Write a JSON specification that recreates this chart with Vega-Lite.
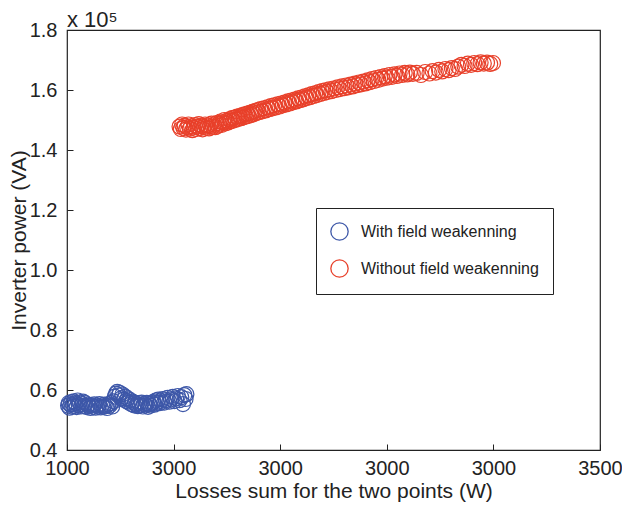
{
  "$schema": "https://vega.github.io/schema/vega-lite/v6.json",
  "width": 533,
  "height": 420,
  "autosize": {"type": "none"},
  "padding": {"left": 67, "top": 30, "right": 22, "bottom": 57},
  "background": "white",
  "title": {"text": "x 10⁵", "anchor": "start", "frame": "group", "font": "Liberation Sans", "fontSize": 22, "fontWeight": "normal", "color": "#222", "offset": -12},
  "config": {
    "view": {"stroke": "#222", "strokeWidth": 1.2},
    "font": "Liberation Sans"
  },
  "datasets": {
    "pts": [
      {"loss":1005,"power":0.548,"case":"With field weakenning"},{"loss":1008,"power":0.556,"case":"With field weakenning"},{"loss":1012,"power":0.541,"case":"With field weakenning"},{"loss":1016,"power":0.552,"case":"With field weakenning"},{"loss":1020,"power":0.560,"case":"With field weakenning"},{"loss":1024,"power":0.545,"case":"With field weakenning"},{"loss":1028,"power":0.553,"case":"With field weakenning"},{"loss":1032,"power":0.562,"case":"With field weakenning"},{"loss":1036,"power":0.547,"case":"With field weakenning"},{"loss":1040,"power":0.556,"case":"With field weakenning"},{"loss":1045,"power":0.543,"case":"With field weakenning"},{"loss":1050,"power":0.565,"case":"With field weakenning"},{"loss":1055,"power":0.550,"case":"With field weakenning"},{"loss":1060,"power":0.558,"case":"With field weakenning"},{"loss":1065,"power":0.545,"case":"With field weakenning"},{"loss":1070,"power":0.553,"case":"With field weakenning"},{"loss":1075,"power":0.561,"case":"With field weakenning"},{"loss":1080,"power":0.547,"case":"With field weakenning"},{"loss":1086,"power":0.556,"case":"With field weakenning"},{"loss":1092,"power":0.543,"case":"With field weakenning"},{"loss":1098,"power":0.551,"case":"With field weakenning"},{"loss":1104,"power":0.546,"case":"With field weakenning"},{"loss":1110,"power":0.540,"case":"With field weakenning"},{"loss":1116,"power":0.549,"case":"With field weakenning"},{"loss":1122,"power":0.544,"case":"With field weakenning"},{"loss":1128,"power":0.552,"case":"With field weakenning"},{"loss":1134,"power":0.541,"case":"With field weakenning"},{"loss":1140,"power":0.548,"case":"With field weakenning"},{"loss":1146,"power":0.545,"case":"With field weakenning"},{"loss":1152,"power":0.553,"case":"With field weakenning"},{"loss":1158,"power":0.542,"case":"With field weakenning"},{"loss":1164,"power":0.549,"case":"With field weakenning"},{"loss":1170,"power":0.544,"case":"With field weakenning"},{"loss":1176,"power":0.551,"case":"With field weakenning"},{"loss":1182,"power":0.546,"case":"With field weakenning"},{"loss":1188,"power":0.540,"case":"With field weakenning"},{"loss":1194,"power":0.552,"case":"With field weakenning"},{"loss":1200,"power":0.548,"case":"With field weakenning"},{"loss":1206,"power":0.556,"case":"With field weakenning"},{"loss":1212,"power":0.545,"case":"With field weakenning"},{"loss":1218,"power":0.562,"case":"With field weakenning"},{"loss":1224,"power":0.578,"case":"With field weakenning"},{"loss":1230,"power":0.588,"case":"With field weakenning"},{"loss":1236,"power":0.594,"case":"With field weakenning"},{"loss":1242,"power":0.582,"case":"With field weakenning"},{"loss":1248,"power":0.590,"case":"With field weakenning"},{"loss":1254,"power":0.572,"case":"With field weakenning"},{"loss":1260,"power":0.585,"case":"With field weakenning"},{"loss":1266,"power":0.568,"case":"With field weakenning"},{"loss":1272,"power":0.578,"case":"With field weakenning"},{"loss":1278,"power":0.563,"case":"With field weakenning"},{"loss":1284,"power":0.572,"case":"With field weakenning"},{"loss":1290,"power":0.558,"case":"With field weakenning"},{"loss":1296,"power":0.566,"case":"With field weakenning"},{"loss":1302,"power":0.553,"case":"With field weakenning"},{"loss":1308,"power":0.561,"case":"With field weakenning"},{"loss":1314,"power":0.549,"case":"With field weakenning"},{"loss":1320,"power":0.557,"case":"With field weakenning"},{"loss":1326,"power":0.552,"case":"With field weakenning"},{"loss":1332,"power":0.546,"case":"With field weakenning"},{"loss":1338,"power":0.556,"case":"With field weakenning"},{"loss":1344,"power":0.549,"case":"With field weakenning"},{"loss":1350,"power":0.558,"case":"With field weakenning"},{"loss":1356,"power":0.545,"case":"With field weakenning"},{"loss":1362,"power":0.553,"case":"With field weakenning"},{"loss":1368,"power":0.549,"case":"With field weakenning"},{"loss":1374,"power":0.557,"case":"With field weakenning"},{"loss":1380,"power":0.544,"case":"With field weakenning"},{"loss":1386,"power":0.552,"case":"With field weakenning"},{"loss":1392,"power":0.548,"case":"With field weakenning"},{"loss":1398,"power":0.556,"case":"With field weakenning"},{"loss":1404,"power":0.560,"case":"With field weakenning"},{"loss":1410,"power":0.551,"case":"With field weakenning"},{"loss":1416,"power":0.565,"case":"With field weakenning"},{"loss":1422,"power":0.558,"case":"With field weakenning"},{"loss":1428,"power":0.568,"case":"With field weakenning"},{"loss":1434,"power":0.556,"case":"With field weakenning"},{"loss":1440,"power":0.563,"case":"With field weakenning"},{"loss":1448,"power":0.570,"case":"With field weakenning"},{"loss":1456,"power":0.558,"case":"With field weakenning"},{"loss":1464,"power":0.566,"case":"With field weakenning"},{"loss":1472,"power":0.574,"case":"With field weakenning"},{"loss":1480,"power":0.561,"case":"With field weakenning"},{"loss":1488,"power":0.569,"case":"With field weakenning"},{"loss":1496,"power":0.577,"case":"With field weakenning"},{"loss":1504,"power":0.563,"case":"With field weakenning"},{"loss":1512,"power":0.572,"case":"With field weakenning"},{"loss":1520,"power":0.580,"case":"With field weakenning"},{"loss":1528,"power":0.566,"case":"With field weakenning"},{"loss":1536,"power":0.576,"case":"With field weakenning"},{"loss":1544,"power":0.553,"case":"With field weakenning"},{"loss":1550,"power":0.583,"case":"With field weakenning"},{"loss":1556,"power":0.570,"case":"With field weakenning"},{"loss":1560,"power":0.586,"case":"With field weakenning"},
      {"loss":1528,"power":1.478,"case":"Without field weakenning"},{"loss":1534,"power":1.470,"case":"Without field weakenning"},{"loss":1540,"power":1.485,"case":"Without field weakenning"},{"loss":1546,"power":1.474,"case":"Without field weakenning"},{"loss":1552,"power":1.481,"case":"Without field weakenning"},{"loss":1558,"power":1.468,"case":"Without field weakenning"},{"loss":1564,"power":1.476,"case":"Without field weakenning"},{"loss":1570,"power":1.485,"case":"Without field weakenning"},{"loss":1576,"power":1.471,"case":"Without field weakenning"},{"loss":1582,"power":1.479,"case":"Without field weakenning"},{"loss":1588,"power":1.466,"case":"Without field weakenning"},{"loss":1594,"power":1.475,"case":"Without field weakenning"},{"loss":1600,"power":1.483,"case":"Without field weakenning"},{"loss":1606,"power":1.470,"case":"Without field weakenning"},{"loss":1612,"power":1.478,"case":"Without field weakenning"},{"loss":1618,"power":1.486,"case":"Without field weakenning"},{"loss":1624,"power":1.473,"case":"Without field weakenning"},{"loss":1630,"power":1.481,"case":"Without field weakenning"},{"loss":1636,"power":1.469,"case":"Without field weakenning"},{"loss":1642,"power":1.477,"case":"Without field weakenning"},{"loss":1648,"power":1.485,"case":"Without field weakenning"},{"loss":1654,"power":1.474,"case":"Without field weakenning"},{"loss":1660,"power":1.482,"case":"Without field weakenning"},{"loss":1666,"power":1.472,"case":"Without field weakenning"},{"loss":1672,"power":1.480,"case":"Without field weakenning"},{"loss":1678,"power":1.488,"case":"Without field weakenning"},{"loss":1684,"power":1.477,"case":"Without field weakenning"},{"loss":1690,"power":1.485,"case":"Without field weakenning"},{"loss":1696,"power":1.476,"case":"Without field weakenning"},{"loss":1702,"power":1.490,"case":"Without field weakenning"},{"loss":1708,"power":1.481,"case":"Without field weakenning"},{"loss":1714,"power":1.488,"case":"Without field weakenning"},{"loss":1720,"power":1.495,"case":"Without field weakenning"},{"loss":1726,"power":1.484,"case":"Without field weakenning"},{"loss":1732,"power":1.492,"case":"Without field weakenning"},{"loss":1738,"power":1.500,"case":"Without field weakenning"},{"loss":1744,"power":1.489,"case":"Without field weakenning"},{"loss":1750,"power":1.497,"case":"Without field weakenning"},{"loss":1756,"power":1.492,"case":"Without field weakenning"},{"loss":1762,"power":1.502,"case":"Without field weakenning"},{"loss":1768,"power":1.496,"case":"Without field weakenning"},{"loss":1774,"power":1.506,"case":"Without field weakenning"},{"loss":1780,"power":1.498,"case":"Without field weakenning"},{"loss":1786,"power":1.508,"case":"Without field weakenning"},{"loss":1792,"power":1.501,"case":"Without field weakenning"},{"loss":1798,"power":1.511,"case":"Without field weakenning"},{"loss":1804,"power":1.504,"case":"Without field weakenning"},{"loss":1810,"power":1.513,"case":"Without field weakenning"},{"loss":1816,"power":1.506,"case":"Without field weakenning"},{"loss":1822,"power":1.516,"case":"Without field weakenning"},{"loss":1828,"power":1.509,"case":"Without field weakenning"},{"loss":1834,"power":1.519,"case":"Without field weakenning"},{"loss":1840,"power":1.512,"case":"Without field weakenning"},{"loss":1846,"power":1.521,"case":"Without field weakenning"},{"loss":1852,"power":1.514,"case":"Without field weakenning"},{"loss":1858,"power":1.524,"case":"Without field weakenning"},{"loss":1864,"power":1.517,"case":"Without field weakenning"},{"loss":1870,"power":1.527,"case":"Without field weakenning"},{"loss":1876,"power":1.520,"case":"Without field weakenning"},{"loss":1882,"power":1.530,"case":"Without field weakenning"},{"loss":1888,"power":1.523,"case":"Without field weakenning"},{"loss":1894,"power":1.533,"case":"Without field weakenning"},{"loss":1900,"power":1.526,"case":"Without field weakenning"},{"loss":1908,"power":1.536,"case":"Without field weakenning"},{"loss":1916,"power":1.529,"case":"Without field weakenning"},{"loss":1924,"power":1.539,"case":"Without field weakenning"},{"loss":1932,"power":1.532,"case":"Without field weakenning"},{"loss":1940,"power":1.542,"case":"Without field weakenning"},{"loss":1948,"power":1.536,"case":"Without field weakenning"},{"loss":1956,"power":1.546,"case":"Without field weakenning"},{"loss":1964,"power":1.539,"case":"Without field weakenning"},{"loss":1972,"power":1.549,"case":"Without field weakenning"},{"loss":1980,"power":1.542,"case":"Without field weakenning"},{"loss":1988,"power":1.552,"case":"Without field weakenning"},{"loss":1996,"power":1.545,"case":"Without field weakenning"},{"loss":2004,"power":1.555,"case":"Without field weakenning"},{"loss":2012,"power":1.549,"case":"Without field weakenning"},{"loss":2020,"power":1.558,"case":"Without field weakenning"},{"loss":2028,"power":1.552,"case":"Without field weakenning"},{"loss":2036,"power":1.562,"case":"Without field weakenning"},{"loss":2044,"power":1.555,"case":"Without field weakenning"},{"loss":2052,"power":1.565,"case":"Without field weakenning"},{"loss":2060,"power":1.559,"case":"Without field weakenning"},{"loss":2068,"power":1.568,"case":"Without field weakenning"},{"loss":2076,"power":1.562,"case":"Without field weakenning"},{"loss":2084,"power":1.572,"case":"Without field weakenning"},{"loss":2092,"power":1.566,"case":"Without field weakenning"},{"loss":2100,"power":1.575,"case":"Without field weakenning"},{"loss":2108,"power":1.569,"case":"Without field weakenning"},{"loss":2116,"power":1.579,"case":"Without field weakenning"},{"loss":2124,"power":1.573,"case":"Without field weakenning"},{"loss":2132,"power":1.582,"case":"Without field weakenning"},{"loss":2140,"power":1.576,"case":"Without field weakenning"},{"loss":2148,"power":1.586,"case":"Without field weakenning"},{"loss":2156,"power":1.580,"case":"Without field weakenning"},{"loss":2164,"power":1.589,"case":"Without field weakenning"},{"loss":2172,"power":1.583,"case":"Without field weakenning"},{"loss":2180,"power":1.593,"case":"Without field weakenning"},{"loss":2188,"power":1.587,"case":"Without field weakenning"},{"loss":2196,"power":1.596,"case":"Without field weakenning"},{"loss":2204,"power":1.590,"case":"Without field weakenning"},{"loss":2212,"power":1.599,"case":"Without field weakenning"},{"loss":2220,"power":1.593,"case":"Without field weakenning"},{"loss":2230,"power":1.602,"case":"Without field weakenning"},{"loss":2240,"power":1.596,"case":"Without field weakenning"},{"loss":2250,"power":1.605,"case":"Without field weakenning"},{"loss":2260,"power":1.600,"case":"Without field weakenning"},{"loss":2270,"power":1.609,"case":"Without field weakenning"},{"loss":2280,"power":1.603,"case":"Without field weakenning"},{"loss":2290,"power":1.612,"case":"Without field weakenning"},{"loss":2300,"power":1.606,"case":"Without field weakenning"},{"loss":2310,"power":1.615,"case":"Without field weakenning"},{"loss":2320,"power":1.609,"case":"Without field weakenning"},{"loss":2330,"power":1.618,"case":"Without field weakenning"},{"loss":2340,"power":1.612,"case":"Without field weakenning"},{"loss":2350,"power":1.621,"case":"Without field weakenning"},{"loss":2360,"power":1.616,"case":"Without field weakenning"},{"loss":2370,"power":1.625,"case":"Without field weakenning"},{"loss":2380,"power":1.619,"case":"Without field weakenning"},{"loss":2390,"power":1.628,"case":"Without field weakenning"},{"loss":2400,"power":1.622,"case":"Without field weakenning"},{"loss":2410,"power":1.632,"case":"Without field weakenning"},{"loss":2420,"power":1.626,"case":"Without field weakenning"},{"loss":2430,"power":1.636,"case":"Without field weakenning"},{"loss":2440,"power":1.630,"case":"Without field weakenning"},{"loss":2450,"power":1.640,"case":"Without field weakenning"},{"loss":2460,"power":1.634,"case":"Without field weakenning"},{"loss":2470,"power":1.643,"case":"Without field weakenning"},{"loss":2480,"power":1.638,"case":"Without field weakenning"},{"loss":2490,"power":1.646,"case":"Without field weakenning"},{"loss":2500,"power":1.641,"case":"Without field weakenning"},{"loss":2512,"power":1.650,"case":"Without field weakenning"},{"loss":2524,"power":1.644,"case":"Without field weakenning"},{"loss":2536,"power":1.652,"case":"Without field weakenning"},{"loss":2548,"power":1.647,"case":"Without field weakenning"},{"loss":2560,"power":1.655,"case":"Without field weakenning"},{"loss":2572,"power":1.650,"case":"Without field weakenning"},{"loss":2584,"power":1.657,"case":"Without field weakenning"},{"loss":2596,"power":1.652,"case":"Without field weakenning"},{"loss":2608,"power":1.658,"case":"Without field weakenning"},{"loss":2622,"power":1.654,"case":"Without field weakenning"},{"loss":2640,"power":1.657,"case":"Without field weakenning"},{"loss":2660,"power":1.650,"case":"Without field weakenning"},{"loss":2680,"power":1.660,"case":"Without field weakenning"},{"loss":2700,"power":1.655,"case":"Without field weakenning"},{"loss":2715,"power":1.663,"case":"Without field weakenning"},{"loss":2730,"power":1.658,"case":"Without field weakenning"},{"loss":2745,"power":1.667,"case":"Without field weakenning"},{"loss":2760,"power":1.662,"case":"Without field weakenning"},{"loss":2775,"power":1.670,"case":"Without field weakenning"},{"loss":2790,"power":1.666,"case":"Without field weakenning"},{"loss":2805,"power":1.673,"case":"Without field weakenning"},{"loss":2820,"power":1.670,"case":"Without field weakenning"},{"loss":2835,"power":1.678,"case":"Without field weakenning"},{"loss":2850,"power":1.684,"case":"Without field weakenning"},{"loss":2865,"power":1.680,"case":"Without field weakenning"},{"loss":2880,"power":1.688,"case":"Without field weakenning"},{"loss":2895,"power":1.684,"case":"Without field weakenning"},{"loss":2910,"power":1.690,"case":"Without field weakenning"},{"loss":2925,"power":1.686,"case":"Without field weakenning"},{"loss":2940,"power":1.692,"case":"Without field weakenning"},{"loss":2955,"power":1.688,"case":"Without field weakenning"},{"loss":2970,"power":1.691,"case":"Without field weakenning"},{"loss":2985,"power":1.687,"case":"Without field weakenning"},{"loss":2998,"power":1.690,"case":"Without field weakenning"}
    ]
  },
  "data": {"name": "pts"},
  "mark": {"type": "point", "shape": "circle", "filled": false, "size": 225, "strokeWidth": 1.2, "opacity": 1},
  "encoding": {
    "x": {
      "field": "loss", "type": "quantitative",
      "scale": {"domain": [1000, 3500], "nice": false, "zero": false},
      "axis": {
        "title": "Losses sum for the two points (W)",
        "values": [1000, 1500, 2000, 2500, 3000, 3500],
        "labelExpr": "datum.value == 1000 ? '1000' : (datum.value == 3500 ? '3500' : '3000')",
        "labelFont": "Liberation Sans", "labelFontSize": 20, "labelColor": "#222",
        "titleFont": "Liberation Sans", "titleFontSize": 21, "titleFontWeight": "normal", "titleColor": "#222",
        "domain": false, "grid": false, "tickColor": "#222", "tickSize": -6, "labelPadding": 14, "titlePadding": 2, "labelFlush": false
      }
    },
    "y": {
      "field": "power", "type": "quantitative",
      "scale": {"domain": [0.4, 1.8], "nice": false, "zero": false},
      "axis": {
        "title": "Inverter power (VA)",
        "values": [0.4, 0.6, 0.8, 1.0, 1.2, 1.4, 1.6, 1.8],
        "format": ".1f",
        "labelFont": "Liberation Sans", "labelFontSize": 20, "labelColor": "#222",
        "titleFont": "Liberation Sans", "titleFontSize": 21, "titleFontWeight": "normal", "titleColor": "#222",
        "domain": false, "grid": false, "tickColor": "#222", "tickSize": -6, "labelPadding": 16, "titlePadding": 0, "labelFlush": false
      }
    },
    "color": {
      "field": "case", "type": "nominal",
      "scale": {"domain": ["With field weakenning", "Without field weakenning"], "range": ["#3d57a8", "#e8402a"]},
      "legend": {
        "title": null, "orient": "none", "legendX": 249, "legendY": 178,
        "strokeColor": "#222", "fillColor": "white", "padding": 14,
        "labelFont": "Liberation Sans", "labelFontSize": 16, "labelColor": "#222",
        "symbolType": "circle", "symbolSize": 300, "symbolStrokeWidth": 1.3, "symbolFillColor": "transparent",
        "rowPadding": 14, "labelOffset": 12, "labelLimit": 300
      }
    }
  }
}
